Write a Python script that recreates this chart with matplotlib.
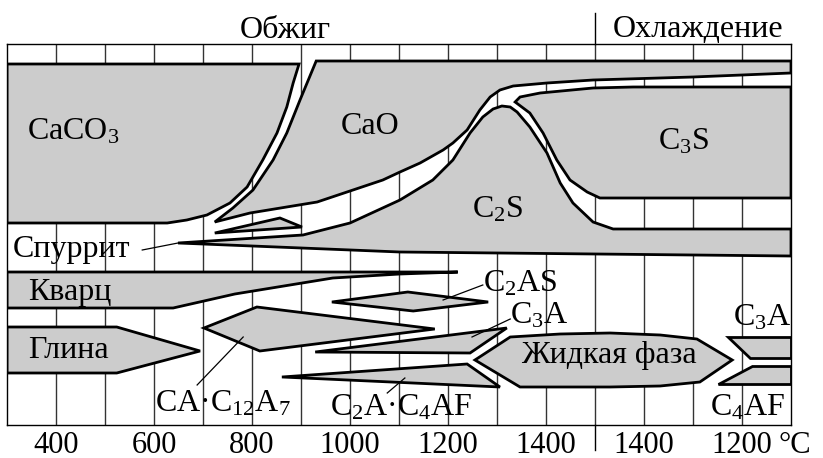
import matplotlib
matplotlib.use("Agg")
import matplotlib.pyplot as plt
from matplotlib.patches import Polygon

plt.rcParams["font.family"] = ["Liberation Serif", "DejaVu Serif"]
plt.rcParams["mathtext.fontset"] = "custom"
plt.rcParams["mathtext.rm"] = "Liberation Serif"
plt.rcParams["mathtext.it"] = "Liberation Serif"
plt.rcParams["mathtext.default"] = "regular"

# x: temperature steps (one column = 100 °C), y: depth from the top of the frame
n_cols = 16
depth = 381

tick_cols = [1, 3, 5, 7, 9, 11, 13, 15]
tick_labels = ["400", "600", "800", "1000", "1200", "1400", "1400", "1200"]
unit_label = "°C"
stage_split = 12

# phase regions (x in columns, y in depth units)
caco3_x = [0, 5.96, 5.84, 5.71, 5.51, 5.22, 4.90, 4.55, 4.08, 3.67, 3.27, 0]
caco3_y = [20, 20, 39, 63, 89, 116, 143, 159, 171, 176, 179, 179]

cao_x = [4.24, 4.61, 5.02, 5.43, 5.71, 5.98, 6.31, 16, 16, 14.0, 11.96, 11.02,
         10.33, 10.06, 9.86, 9.65, 9.39, 9.10, 8.90, 8.43, 8.02, 7.67, 6.33, 4.96]
cao_y = [178, 164, 146, 116, 89, 56, 17, 17, 29, 33, 36, 39,
         42, 46, 53, 66, 86, 99, 106, 119, 128, 136, 158, 169]

c2s_x = [3.49, 6.04, 7.0, 8.02, 8.69, 9.10, 9.45, 9.71, 9.92, 10.10, 10.27, 10.41,
         10.67, 11.02, 11.29, 11.55, 11.96, 12.37, 16, 16, 8.02]
c2s_y = [199, 191, 179, 156, 136, 116, 89, 73, 65, 62, 63, 68,
         83, 109, 139, 159, 178, 185, 185, 212, 208]

c3s_x = [10.37, 10.47, 10.88, 11.96, 12.78, 16, 16, 12.10, 11.84, 11.49, 11.22, 10.94, 10.67]
c3s_y = [58, 53, 49, 44, 43, 43, 154, 154, 148, 136, 116, 89, 69]

spurrite_x = [4.24, 5.57, 6.02]
spurrite_y = [189, 174, 183]

quartz_x = [0, 9.20, 8.02, 6.65, 4.65, 3.39, 0]
quartz_y = [228, 228, 230, 234, 250, 264, 264]

clay_x = [0, 2.24, 3.94, 2.24, 0]
clay_y = [283, 283, 307, 329, 329]

ca_c12a7_x = [4.02, 5.10, 8.73, 5.16]
ca_c12a7_y = [284, 263, 285, 307]

c2as_x = [6.63, 8.18, 9.82, 8.29]
c2as_y = [258, 248, 258, 267]

c3a_heat_x = [6.29, 10.20, 9.45]
c3a_heat_y = [308, 284, 309]

c2a_c4af_x = [5.61, 9.39, 10.06]
c2a_c4af_y = [333, 320, 343]

liquid_x = [9.55, 10.27, 11.29, 12.31, 13.33, 14.08, 14.80, 14.14, 13.33, 12.31, 11.29, 10.47]
liquid_y = [316, 293, 290, 289, 291, 295, 316, 338, 342, 343, 343, 343]

c3a_cool_x = [14.71, 16, 16, 15.16]
c3a_cool_y = [293, 293, 314, 314]

c4af_cool_x = [15.20, 16, 16, 14.51]
c4af_cool_y = [322, 322, 340, 340]

regions = [
    (caco3_x, caco3_y), (cao_x, cao_y), (c2s_x, c2s_y), (c3s_x, c3s_y),
    (spurrite_x, spurrite_y), (quartz_x, quartz_y), (clay_x, clay_y),
    (ca_c12a7_x, ca_c12a7_y), (c2as_x, c2as_y), (c3a_heat_x, c3a_heat_y),
    (c2a_c4af_x, c2a_c4af_y), (liquid_x, liquid_y),
    (c3a_cool_x, c3a_cool_y), (c4af_cool_x, c4af_cool_y),
]

# labels: (text, x, baseline y, alignment)
labels = [
    ("CaCO$_3$", 0.41, 95, "left"),
    ("CaO", 7.41, 90, "center"),
    ("C$_3$S", 13.29, 106, "left"),
    ("C$_2$S", 9.49, 174, "left"),
    ("Спуррит", 0.12, 213, "left"),
    ("Кварц", 0.43, 256, "left"),
    ("Глина", 0.43, 314, "left"),
    ("CA·C$_{12}$A$_7$", 3.02, 368, "left"),
    ("C$_2$A·C$_4$AF", 6.59, 371, "left"),
    ("C$_2$AS", 9.71, 247, "left"),
    ("C$_3$A", 10.27, 279, "left"),
    ("Жидкая фаза", 12.29, 319, "center"),
    ("C$_3$A", 14.82, 282, "left"),
    ("C$_4$AF", 14.35, 371, "left"),
]

# leader lines from labels to regions
leaders = [
    ([2.76, 3.49], [206, 199]),
    ([3.88, 4.82], [341, 293]),
    ([7.76, 8.12], [349, 334]),
    ([8.90, 9.71], [256, 241]),
    ([9.49, 10.27], [293, 275]),
]

stage_titles = [("Обжиг", 5.69, -6), ("Охлаждение", 14.1, -7)]

fig = plt.figure(figsize=(8.23, 4.58), dpi=100)
ax = fig.add_axes([7 / 823, 1 - 425 / 458, 784 / 823, 381 / 458])
ax.set_xlim(0, n_cols)
ax.set_ylim(depth, 0)

ax.vlines(range(1, n_cols), 0, depth, color="#333333", lw=1.0, zorder=1)

fill = "#cccccc"
for xs, ys in regions:
    ax.add_patch(Polygon(list(zip(xs, ys)), closed=True, facecolor=fill,
                         edgecolor="black", lw=2.0, joinstyle="miter", zorder=2))

for xs, ys in leaders:
    ax.plot(xs, ys, color="black", lw=0.9, zorder=3)

fs = 23
for text, x, y, ha in labels:
    ax.text(x, y, text, fontsize=fs, ha=ha, va="baseline", zorder=4)

for text, x, y in stage_titles:
    ax.text(x, y, text, fontsize=fs, ha="center", va="baseline", clip_on=False)

ax.plot([stage_split, stage_split], [-31, 0], color="black", lw=1.0, clip_on=False)
ax.plot([stage_split, stage_split], [depth, depth + 25], color="black", lw=1.0, clip_on=False)

tick_fs = 22
tick_pad = 4
ax.set_xticks(tick_cols)
ax.set_xticklabels(tick_labels, fontsize=tick_fs)
ax.tick_params(axis="x", length=0, pad=tick_pad)
ax.set_yticks([])
ax.annotate(unit_label, xy=(15.74, 0), xycoords=("data", "axes fraction"),
            xytext=(0, -tick_pad), textcoords="offset points",
            fontsize=tick_fs, ha="left", va="top", annotation_clip=False)

for s in ax.spines.values():
    s.set_linewidth(1.0)
    s.set_color("black")

fig.savefig("out.png", dpi=100)
